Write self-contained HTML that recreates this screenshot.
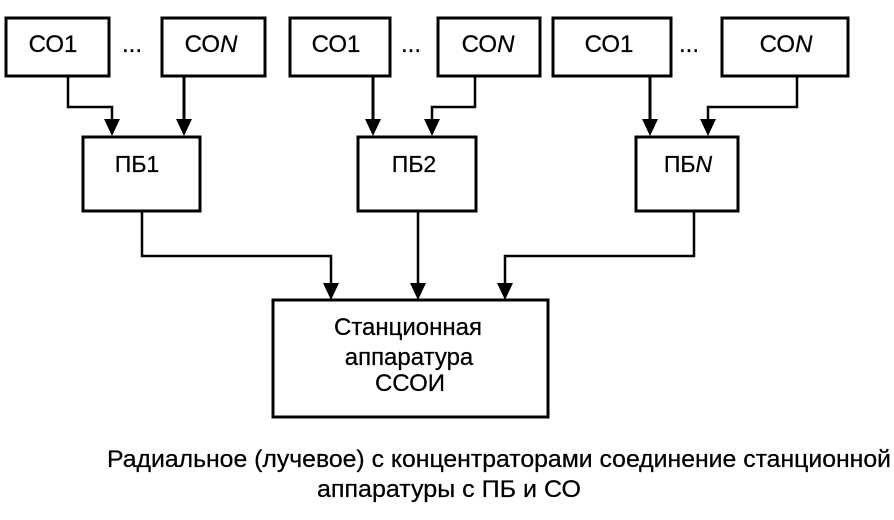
<!DOCTYPE html>
<html><head><meta charset="utf-8">
<style>html,body{margin:0;padding:0;background:#fff}svg{display:block}text{font-family:"Liberation Sans",sans-serif;fill:#000;font-size:24px;text-anchor:middle;stroke:#000;stroke-width:.25px}</style>
</head><body>
<svg width="894" height="520" viewBox="0 0 894 520" xmlns="http://www.w3.org/2000/svg">
<g fill="none" stroke="#000" stroke-width="3">
<rect x="6" y="18" width="103" height="58"/><rect x="162" y="18" width="103" height="58"/>
<rect x="290" y="18" width="100" height="58"/><rect x="438" y="18" width="102" height="58"/>
<rect x="553" y="18" width="118" height="58"/><rect x="722" y="18" width="126" height="58"/>
<rect x="83" y="137" width="117" height="74"/><rect x="358" y="137" width="118" height="74"/><rect x="636" y="137" width="102" height="74"/>
<rect x="273" y="300" width="275" height="117"/>
<path d="M68 76V107H112V122" stroke-width="2.5"/><path d="M184 76V122"/>
<path d="M373 76V122"/><path d="M475 76V107H432V122" stroke-width="2.5"/>
<path d="M650 76V122"/><path d="M797 76V107H708V122" stroke-width="2.5"/>
<path d="M142 211V256H331V286" stroke-width="2.5"/><path d="M418 211V286" stroke-width="2.5"/><path d="M694 211V256H505V286" stroke-width="2.5"/>
</g>
<g fill="#000">
<path d="M104 119H120L112 136z"/><path d="M176 119H192L184 136z"/>
<path d="M365 119H381L373 136z"/><path d="M424 119H440L432 136z"/>
<path d="M642 119H658L650 136z"/><path d="M700 119H716L708 136z"/>
<path d="M323 283H339L331 300z"/><path d="M410 283H426L418 300z"/><path d="M497 283H513L505 300z"/>
</g>
<text x="53" y="52">СО1</text><text x="132" y="52">...</text><text x="211" y="52">СО<tspan font-style="italic">N</tspan></text>
<text x="336" y="52">СО1</text><text x="411" y="52">...</text><text x="488" y="52">СО<tspan font-style="italic">N</tspan></text>
<text x="609" y="52">СО1</text><text x="689" y="52">...</text><text x="786" y="52">СО<tspan font-style="italic">N</tspan></text>
<text x="137" y="172" style="font-size:23px">ПБ1</text><text x="414" y="172" style="font-size:23px">ПБ2</text><text x="688" y="172" style="font-size:23px">ПБ<tspan font-style="italic">N</tspan></text>
<text x="408" y="335">Станционная</text><text x="409" y="365">аппаратура</text><text x="410" y="391">ССОИ</text>
<text x="499" y="467" textLength="784" lengthAdjust="spacingAndGlyphs">Радиальное (лучевое) с концентраторами соединение станционной</text>
<text x="449" y="497" textLength="264" lengthAdjust="spacingAndGlyphs">аппаратуры с ПБ и СО</text>
</svg>
</body></html>
